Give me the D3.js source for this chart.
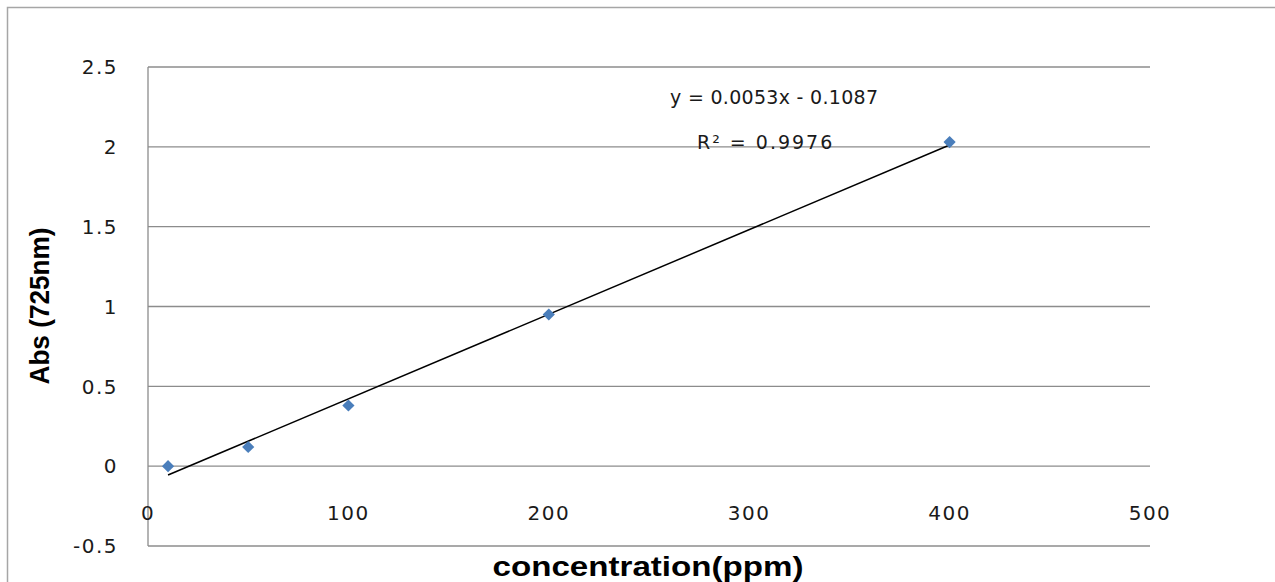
<!DOCTYPE html>
<html>
<head>
<meta charset="utf-8">
<script src="https://cdn.jsdelivr.net/npm/d3@7"></script>
<style>
body { margin: 0; background: #fff; }
svg { display: block; }
</style>
</head>
<body>
<svg width="1275" height="582"></svg>
<script>
// concentration (ppm) vs absorbance at 725nm
var conc = [10, 50, 100, 200, 400]
var abs = [0.00, 0.12, 0.38, 0.95, 2.03]
var xTicks = [0, 100, 200, 300, 400, 500]
var yTicks = [-0.5, 0, 0.5, 1, 1.5, 2, 2.5]
var slope = 0.0053, intercept = -0.1087
var eqText = 'y = 0.0053x - 0.1087'
var r2Text = 'R² = 0.9976'

var svg = d3.select('svg')

var x = d3.scaleLinear().domain([0, 500]).range([148, 1150])
var y = d3.scaleLinear().domain([-0.5, 2.5]).range([546, 67])

// chart border
svg.append('rect')
.attr('x', 7.5).attr('y', 7.5)
.attr('width', 1275).attr('height', 600)
.attr('fill', 'none')
.attr('stroke', '#a6a6a6')
.attr('stroke-width', 1.5)

// gridlines
svg.append('g')
.selectAll('line')
.data(yTicks)
.enter().append('line')
.attr('x1', x(0)).attr('x2', x(500))
.attr('y1', function (d) { return y(d) })
.attr('y2', function (d) { return y(d) })
.attr('stroke', '#8c8c8c')
.attr('stroke-width', 1.3)

// y axis line
svg.append('line')
.attr('x1', x(0)).attr('x2', x(0))
.attr('y1', y(2.5)).attr('y2', y(-0.5))
.attr('stroke', '#8c8c8c')
.attr('stroke-width', 1.3)

var tickFont = 'DejaVu Sans, Verdana, sans-serif'

svg.append('g')
.selectAll('text')
.data(yTicks)
.enter().append('text')
.attr('x', 118)
.attr('y', function (d) { return y(d) })
.attr('dy', '0.36em')
.attr('text-anchor', 'end')
.attr('font-family', tickFont)
.attr('font-size', 20)
.attr('letter-spacing', 1.5)
.attr('fill', '#1a1a1a')
.text(function (d) { return d })

svg.append('g')
.selectAll('text')
.data(xTicks)
.enter().append('text')
.attr('x', function (d) { return x(d) })
.attr('y', y(0) + 47)
.attr('dy', '0.36em')
.attr('text-anchor', 'middle')
.attr('font-family', tickFont)
.attr('font-size', 20)
.attr('letter-spacing', 1.5)
.attr('fill', '#1a1a1a')
.text(function (d) { return d })

// trendline
var ext = d3.extent(conc)
svg.append('line')
.attr('x1', x(ext[0])).attr('y1', y(slope * ext[0] + intercept))
.attr('x2', x(ext[1])).attr('y2', y(slope * ext[1] + intercept))
.attr('stroke', '#000')
.attr('stroke-width', 1.5)

// points
svg.append('g')
.selectAll('path')
.data(conc)
.enter().append('path')
.attr('d', d3.symbol().type(d3.symbolDiamond2).size(95))
.attr('transform', function (d, i) { return 'translate(' + x(d) + ',' + y(abs[i]) + ')' })
.attr('fill', '#4a7ebb')

// equation labels
svg.append('text')
.attr('x', 670).attr('y', 104)
.attr('font-family', tickFont)
.attr('font-size', 19)
.attr('letter-spacing', 0.3)
.attr('fill', '#1a1a1a')
.text(eqText)

svg.append('text')
.attr('x', 697).attr('y', 149)
.attr('font-family', tickFont)
.attr('font-size', 19)
.attr('letter-spacing', 2)
.attr('fill', '#1a1a1a')
.text(r2Text)

// axis titles
svg.append('text')
.attr('x', 648).attr('y', 576)
.attr('text-anchor', 'middle')
.attr('font-family', 'Liberation Sans, sans-serif')
.attr('font-weight', 'bold')
.attr('font-size', 27)
.attr('textLength', 311)
.attr('lengthAdjust', 'spacingAndGlyphs')
.attr('fill', '#000')
.text('concentration(ppm)')

svg.append('text')
.attr('transform', 'translate(49,306) rotate(-90)')
.attr('text-anchor', 'middle')
.attr('font-family', 'Liberation Sans, sans-serif')
.attr('font-weight', 'bold')
.attr('font-size', 27)
.attr('textLength', 157)
.attr('lengthAdjust', 'spacingAndGlyphs')
.attr('fill', '#000')
.text('Abs (725nm)')
</script>
</body>
</html>
